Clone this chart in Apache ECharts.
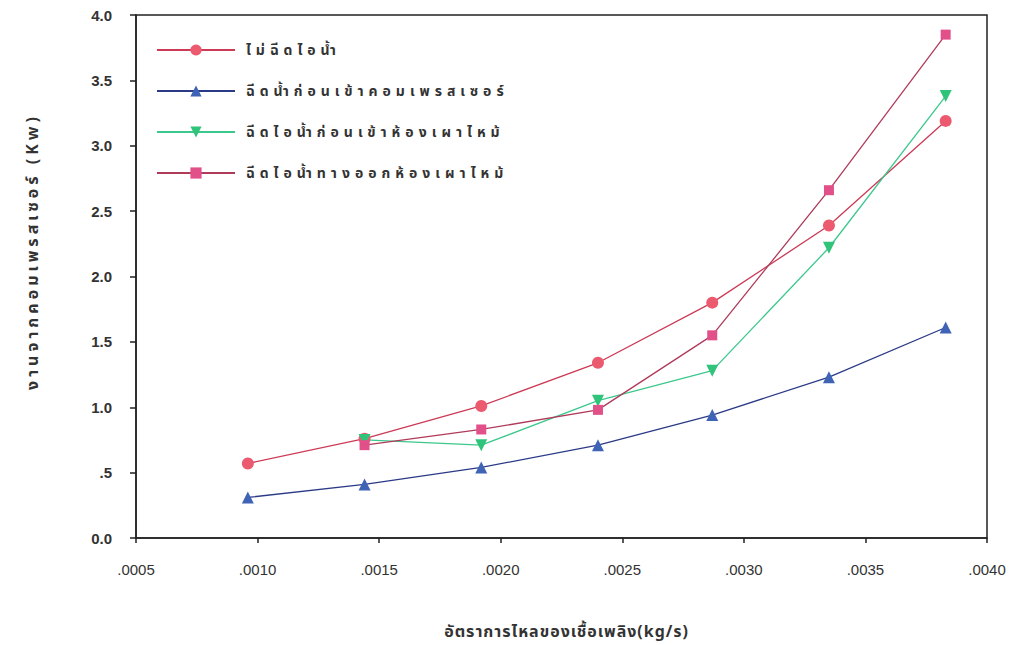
<!DOCTYPE html>
<html>
<head>
<meta charset="utf-8">
<script src="https://cdn.jsdelivr.net/npm/echarts@6/dist/echarts.min.js"></script>
<style>
  html, body { margin: 0; padding: 0; background: #fff; }
  #chart { width: 1019px; height: 645px; }
</style>
</head>
<body>
<div id="chart"></div>
<script>
// Fuel mass flow rate (kg/s)
const fuelFlow = [0.00096, 0.00144, 0.00192, 0.00240, 0.00287, 0.00335, 0.00383];

// Compressor work (kW) for each steam-injection case
const noInjection      = [0.57, 0.76, 1.01, 1.34, 1.80, 2.39, 3.19];
const beforeCompressor = [0.31, 0.41, 0.54, 0.71, 0.94, 1.23, 1.61];
const beforeCombustor  = [null, 0.75, 0.71, 1.05, 1.28, 2.22, 3.38];
const afterCombustor   = [null, 0.71, 0.83, 0.98, 1.55, 2.66, 3.85];

const seriesNames = [
  'ไม่ฉีดไอน้ำ',
  'ฉีดน้ำก่อนเข้าคอมเพรสเซอร์',
  'ฉีดไอน้ำก่อนเข้าห้องเผาไหม้',
  'ฉีดไอน้ำทางออกห้องเผาไหม้'
];

const xAxisTitle = 'อัตราการไหลของเชื้อเพลิง(kg/s)';
const yAxisTitle = 'งานจากคอมเพรสเซอร์ (Kw)';

function pairs(ys) {
  return fuelFlow.map((x, i) => [x, ys[i]]).filter(p => p[1] !== null);
}

const thaiFont = '"Noto Sans Thai", "Noto Serif Thai", Loma, Garuda, "DejaVu Sans", sans-serif';
const numFont = '"Liberation Sans", Arial, sans-serif';

function lineSeries(name, data, symbol, size, fill, stroke, rotate) {
  return {
    name: name,
    type: 'line',
    data: pairs(data),
    symbol: symbol,
    symbolSize: size,
    symbolRotate: rotate || 0,
    showAllSymbol: true,
    lineStyle: { color: stroke, width: 1.3 },
    itemStyle: { color: fill, borderColor: fill, borderWidth: 0, opacity: 1 },
    emphasis: { disabled: true },
    z: 3
  };
}

const chart = echarts.init(document.getElementById('chart'), null, { renderer: 'svg' });
chart.setOption({
  animation: false,
  backgroundColor: '#ffffff',
  grid: {
    left: 136, right: 32, top: 15, bottom: 103,
    show: true, borderColor: '#222', borderWidth: 1.5, backgroundColor: 'transparent'
  },
  legend: {
    orient: 'vertical',
    left: 151,
    top: 38,
    itemWidth: 78,
    itemHeight: 14,
    itemGap: 27,
    data: seriesNames,
    textStyle: { fontFamily: thaiFont, fontSize: 14, fontWeight: 'bold', color: '#333', padding: [0, 0, 0, 6] }
  },
  xAxis: {
    type: 'value',
    min: 0.0005,
    max: 0.0040,
    interval: 0.0005,
    name: xAxisTitle,
    nameLocation: 'middle',
    nameGap: 86,
    nameTextStyle: { fontFamily: thaiFont, fontSize: 16, fontWeight: 'bold', color: '#333', padding: [0, 0, 0, 10] },
    axisLine: { show: true, onZero: false, lineStyle: { color: '#222', width: 1.5 } },
    axisTick: { show: true, length: 5, lineStyle: { color: '#222', width: 1.5 } },
    axisLabel: {
      margin: 24,
      fontFamily: numFont, fontSize: 15, color: '#333',
      formatter: v => v.toFixed(4).replace(/^0/, '')
    },
    splitLine: { show: false }
  },
  yAxis: {
    type: 'value',
    min: 0,
    max: 4,
    interval: 0.5,
    name: yAxisTitle,
    nameLocation: 'middle',
    nameGap: 95,
    nameRotate: 90,
    nameTextStyle: { fontFamily: thaiFont, fontSize: 16, fontWeight: 'bold', color: '#333', padding: [0, 0, 0, 50] },
    axisLine: { show: true, lineStyle: { color: '#222', width: 1.5 } },
    axisTick: { show: true, length: 6, lineStyle: { color: '#222', width: 1.5 } },
    axisLabel: {
      margin: 24,
      fontFamily: numFont, fontSize: 15, fontWeight: 'bold', color: '#333',
      formatter: v => (v > 0 && v < 1) ? v.toFixed(1).replace(/^0/, '') : v.toFixed(1)
    },
    splitLine: { show: false }
  },
  series: [
    lineSeries(seriesNames[0], noInjection, 'circle', 12, '#ec5a70', '#cc3a55'),
    lineSeries(seriesNames[1], beforeCompressor, 'triangle', 12, '#3f63b5', '#2b3a86'),
    lineSeries(seriesNames[2], beforeCombustor, 'triangle', 12, '#2fc47a', '#3cc88c', 180),
    lineSeries(seriesNames[3], afterCombustor, 'rect', 10, '#e2508a', '#b03a5a')
  ]
});

// Thai captions are set in a widely tracked typewriter style
const thai = /[\u0E00-\u0E7F]/;
document.querySelectorAll('#chart svg text').forEach(t => {
  const s = t.textContent || '';
  if (!thai.test(s)) return;
  let spacing = 5;
  if (s === xAxisTitle) spacing = 1;
  if (s === yAxisTitle) spacing = 4;
  t.setAttribute('letter-spacing', spacing + 'px');
});
</script>
</body>
</html>
